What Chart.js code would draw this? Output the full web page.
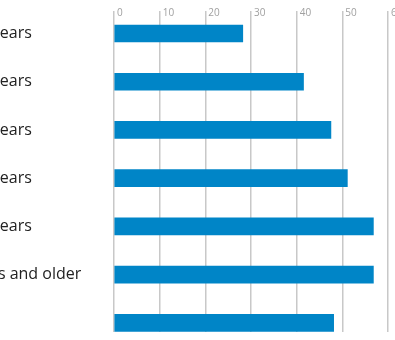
<!DOCTYPE html>
<html>
<head>
<meta charset="utf-8">
<script src="https://cdn.jsdelivr.net/npm/chart.js@4"></script>
<style>
html, body { margin: 0; padding: 0; background: #fff; overflow: hidden; }
#wrap { position: relative; width: 395px; height: 340px; overflow: hidden; }
#ageChart { position: absolute; top: 0; left: -57px; }
</style>
</head>
<body>
<div id="wrap"><canvas id="ageChart" width="452" height="340"></canvas></div>
<script>
const ageGroups = ['16–24 years', '25–34 years', '35–44 years', '45–54 years', '55–64 years', '65 years and older', 'Total'];
const shares = [28.2, 41.5, 47.5, 51.1, 56.8, 56.8, 48.1];
const xTicks = [0, 10, 20, 30, 40, 50, 60];

const cutLeft = 57;   // how much of the label column is off the page

function initializeChart() {
    const ctx = document.getElementById('ageChart').getContext('2d');

    new Chart(ctx, {
        type: 'bar',
        data: {
            datasets: [{
                data: shares.map((v, i) => ({ x: v, y: i })),
                backgroundColor: '#0085c7',
                borderWidth: 0,
                barThickness: 17,
            }]
        },
        options: {
            indexAxis: 'y',
            responsive: false,
            animation: false,
            layout: { padding: { left: 0, top: 0, right: 7, bottom: 8 } },
            scales: {
                x: {
                    position: 'top',
                    min: xTicks[0],
                    max: xTicks[xTicks.length - 1],
                    border: { display: false },
                    grid: { color: '#c8c8c8', lineWidth: 1.5, drawTicks: true, tickLength: 9 },
                    ticks: {
                        stepSize: xTicks[1] - xTicks[0],
                        align: 'start',
                        labelOffset: 3,
                        padding: -8,
                        color: '#a0a0a0',
                        font: { family: 'Open Sans', size: 10 }
                    },
                    afterFit: (scale) => {
                        scale.height = 20;
                        scale.paddingLeft = 0;
                        scale.paddingRight = 0;
                    }
                },
                y: {
                    type: 'linear',
                    reverse: true,
                    offset: false,
                    min: -0.28,
                    max: 6.19,
                    border: { display: false },
                    grid: { display: false, offset: false },
                    ticks: {
                        stepSize: 1,
                        includeBounds: false,
                        crossAlign: 'far',
                        color: '#222',
                        font: { family: 'Open Sans', size: 16 },
                        callback: (v) => ageGroups[v] ?? ''
                    },
                    afterFit: (scale) => {
                        scale.width = 114 + cutLeft;
                        scale.paddingTop = 0;
                        scale.paddingBottom = 0;
                    }
                }
            },
            plugins: {
                legend: { display: false },
                tooltip: { enabled: false }
            }
        }
    });
}
document.addEventListener('DOMContentLoaded', initializeChart);
</script>
</body>
</html>
